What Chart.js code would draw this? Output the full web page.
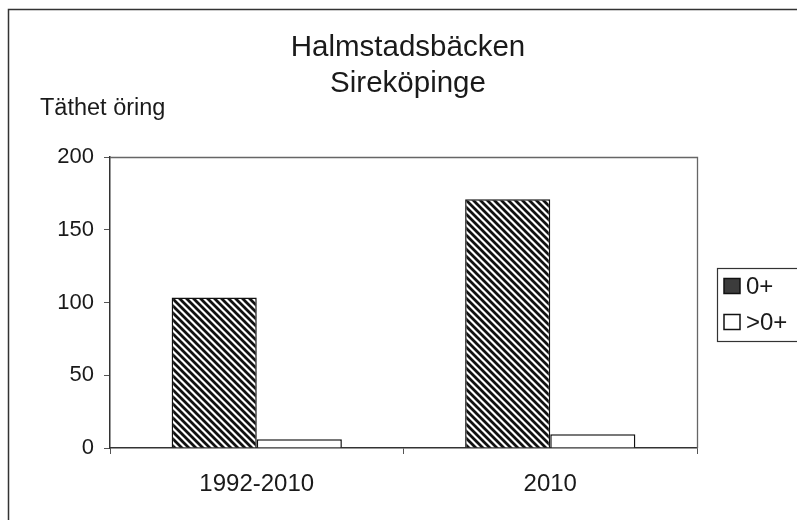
<!DOCTYPE html>
<html>
<head>
<meta charset="utf-8">
<script src="https://cdn.jsdelivr.net/npm/chart.js@4.4.1/dist/chart.umd.min.js"></script>
<style>
  html, body { margin: 0; padding: 0; background: #fff; }
  #wrap { width: 797px; height: 520px; position: relative; }
</style>
</head>
<body>
<div id="wrap"><canvas id="c"></canvas></div>
<script>
const titleLines = ["Halmstadsbäcken", "Sireköpinge"];
const yTitle = "Täthet öring";
const categories = ["1992-2010", "2010"];
const seriesNames = ["0+", ">0+"];
const values0plus = [103.5, 171];
const valuesOver0 = [6, 9.5];
const yTicks = [0, 50, 100, 150, 200];

const FONT = "Arial, 'Liberation Sans', sans-serif";

function makeHatch() {
  const n = 7;
  const p = document.createElement('canvas');
  p.width = n; p.height = n;
  const g = p.getContext('2d');
  g.fillStyle = '#fff';
  g.fillRect(0, 0, n, n);
  g.strokeStyle = '#111';
  g.lineWidth = 2.8;
  g.beginPath();
  g.moveTo(-n, -n); g.lineTo(2 * n, 2 * n);
  g.moveTo(-n, 0); g.lineTo(n, 2 * n);
  g.moveTo(0, -n); g.lineTo(2 * n, n);
  g.stroke();
  return g.createPattern(p, 'repeat');
}
const hatch = makeHatch();

const decorPlugin = {
  id: 'decor',
  beforeDraw(chart) {
    const ctx = chart.ctx;
    ctx.save();
    ctx.fillStyle = '#fff';
    ctx.fillRect(0, 0, chart.width, chart.height);
    ctx.strokeStyle = '#333';
    ctx.lineWidth = 1.5;
    ctx.strokeRect(8.5, 9.5, 820, 540);
    ctx.restore();
  },
  afterDraw(chart) {
    const ctx = chart.ctx;
    const a = chart.chartArea;
    ctx.save();
    ctx.strokeStyle = '#666';
    ctx.lineWidth = 1.3;
    ctx.beginPath();
    ctx.moveTo(a.left, a.top + 0.5);
    ctx.lineTo(a.right + 0.5, a.top + 0.5);
    ctx.lineTo(a.right + 0.5, a.bottom);
    ctx.stroke();
    ctx.fillStyle = '#1a1a1a';
    ctx.textAlign = 'center';
    ctx.textBaseline = 'alphabetic';
    ctx.font = '29.5px ' + FONT;
    ctx.fillText(titleLines[0], 408, 56);
    ctx.fillText(titleLines[1], 408, 92);
    ctx.textAlign = 'left';
    ctx.font = '23.5px ' + FONT;
    ctx.fillText(yTitle, 40, 115);
    ctx.strokeStyle = '#333';
    ctx.lineWidth = 1.2;
    ctx.strokeRect(717.5, 268.5, 100, 73);
    const ds = chart.data.datasets;
    const ys = [286, 322];
    ctx.font = '24px ' + FONT;
    ctx.textBaseline = 'middle';
    for (let i = 0; i < ds.length; i++) {
      ctx.fillStyle = ds[i].legendColor;
      ctx.fillRect(724, ys[i] - 7.5, 16, 15);
      ctx.strokeStyle = '#111';
      ctx.lineWidth = 1.5;
      ctx.strokeRect(724, ys[i] - 7.5, 16, 15);
      ctx.fillStyle = '#1a1a1a';
      ctx.fillText(ds[i].label, 746, ys[i] + 1);
    }
    ctx.restore();
  }
};

new Chart(document.getElementById('c'), {
  type: 'bar',
  data: {
    labels: categories,
    datasets: [
      {
        label: seriesNames[0],
        data: values0plus,
        backgroundColor: hatch,
        borderColor: '#111',
        borderWidth: 1.5,
        legendColor: '#3c3c3c',
        categoryPercentage: 0.58,
        barPercentage: 1
      },
      {
        label: seriesNames[1],
        data: valuesOver0,
        backgroundColor: '#fff',
        borderColor: '#111',
        borderWidth: 1.5,
        legendColor: '#fff',
        categoryPercentage: 0.58,
        barPercentage: 1
      }
    ]
  },
  options: {
    responsive: true,
    maintainAspectRatio: false,
    devicePixelRatio: 1,
    animation: false,
    layout: { padding: { left: 0, top: 157, right: 100, bottom: 0 } },
    plugins: {
      legend: { display: false },
      title: { display: false },
      tooltip: { enabled: false }
    },
    scales: {
      x: {
        afterFit(s) { s.height = 72; },
        grid: {
          display: true,
          drawOnChartArea: false,
          drawTicks: true,
          tickLength: 6,
          color: '#555',
          offset: true
        },
        border: { display: true, color: '#333', width: 1.5 },
        ticks: {
          color: '#1a1a1a',
          padding: 16,
          font: { family: FONT, size: 24 }
        }
      },
      y: {
        min: 0,
        max: 200,
        afterFit(s) { s.width = 110; },
        afterBuildTicks(s) { s.ticks = yTicks.map(v => ({ value: v })); },
        grid: {
          display: true,
          drawOnChartArea: false,
          drawTicks: true,
          tickLength: 6,
          color: '#555'
        },
        border: { display: true, color: '#333', width: 1.5 },
        ticks: {
          color: '#1a1a1a',
          padding: 10,
          font: { family: FONT, size: 22 }
        }
      }
    }
  },
  plugins: [decorPlugin]
});
</script>
</body>
</html>
